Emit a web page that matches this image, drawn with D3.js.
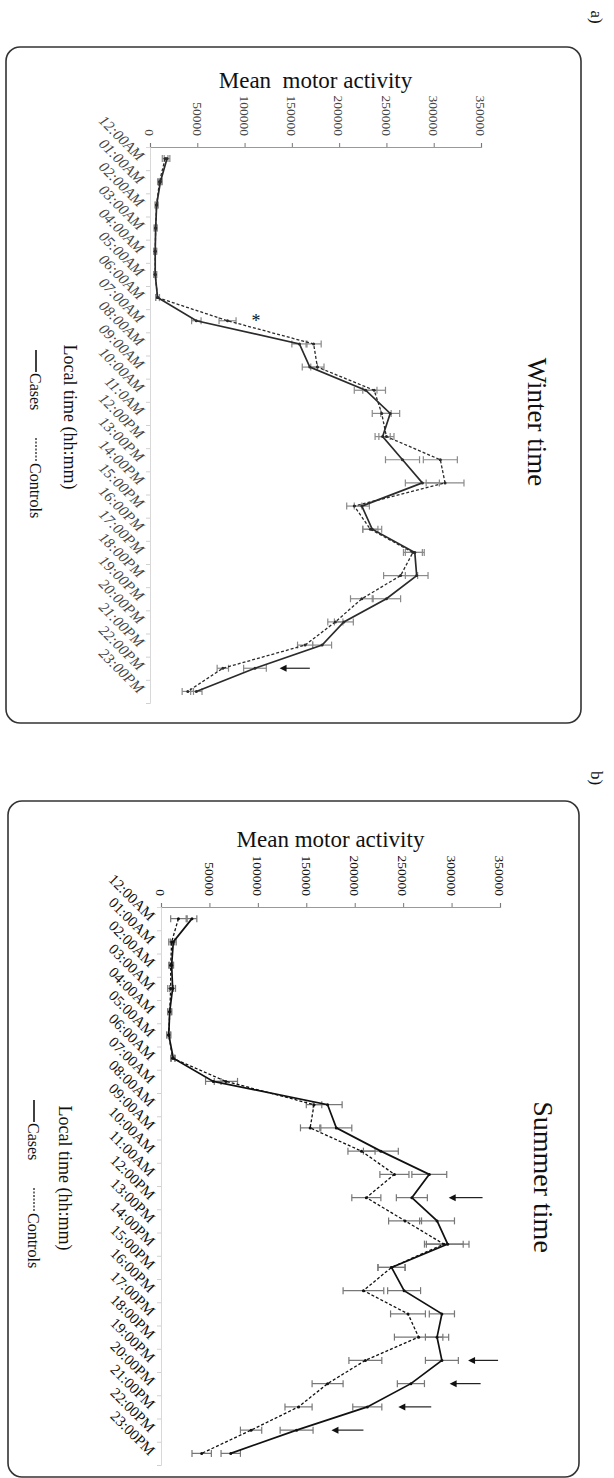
<!DOCTYPE html>
<html><head><meta charset="utf-8">
<script src="https://cdn.jsdelivr.net/npm/d3@7"></script>
<style>body{margin:0;background:#fff}svg{display:block}</style>
</head><body><svg id="c" width="614" height="1478"></svg>
<script>
// ---------- DATA ----------
const hoursA = ["12:00AM","01:00AM","02:00AM","03:00AM","04:00AM","05:00AM","06:00AM","07:00AM","08:00AM","09:00AM","10:00AM","11:0AM","12:00PM","13:00PM","14:00PM","15:00PM","16:00PM","17:00PM","18:00PM","19:00PM","20:00PM","21:00PM","22:00PM","23:00PM"];
const hoursB = ["12:00AM","01:00AM","02:00AM","03:00AM","04:00AM","05:00AM","06:00AM","07:00AM","08:00AM","09:00AM","10:00AM","11:00AM","12:00PM","13:00PM","14:00PM","15:00PM","16:00PM","17:00PM","18:00PM","19:00PM","20:00PM","21:00PM","22:00PM","23:00PM"];
const valueTicks = [0,50000,100000,150000,200000,250000,300000,350000];

const winterCases    = [18000,11000,7000,6000,5500,5500,8000,49000,158000,169000,228000,254000,246000,267000,288000,224000,235000,280000,282000,250000,205000,182000,111000,49000];
const winterCasesErr = [3000,2000,1500,1500,1500,1500,2000,5000,8000,8000,12000,10000,8000,18000,18000,8000,10000,10000,12000,15000,10000,10000,12000,6000];
const winterControls    = [16000,10000,7000,6000,5500,5500,8000,82000,173000,177000,237000,245000,250000,307000,312000,216000,233000,278000,265000,224000,196000,164000,77000,40000];
const winterControlsErr = [3000,2000,1500,1500,1500,1500,2000,9000,8000,7000,12000,10000,8000,18000,20000,8000,8000,10000,18000,12000,8000,8000,6000,6000];
const winterArrows = [[22,137000,169000]];
const winterStars  = [[7,112000]];

const summerCases    = [32000,12700,11000,12000,9000,8000,12700,54000,172000,181000,227000,277000,259000,285000,296000,238000,251000,290000,285000,290000,258000,213000,140000,72000];
const summerCasesErr = [5000,3000,2000,3000,2000,2000,2000,8000,15000,16000,18000,18000,16000,18000,22000,14000,17000,13000,12000,17000,14000,15000,17000,10000];
const summerControls    = [18000,11000,10000,10000,9000,8000,12000,67000,158000,154000,207000,241000,212000,252000,292000,238000,209000,255000,266000,211000,172000,142000,93000,42000];
const summerControlsErr = [8000,3000,2000,3000,2000,2000,2000,12000,8000,10000,14000,15000,15000,17000,20000,14000,21000,18000,25000,17000,16000,14000,11000,10000];
const summerArrows = [[12,297000,332000],[19,317000,348000],[20,298000,330000],[21,245000,279000],[22,176000,209000]];
const summerStars  = [];

// ---------- LAYOUT ----------
const panels = [
  {tag:"a)", title:"Winter time", yTitle:"Mean  motor activity", hours:hoursA,
   cases:winterCases, casesErr:winterCasesErr, controls:winterControls, controlsErr:winterControlsErr,
   arrows:winterArrows, stars:winterStars,
   box:[6,47,581,723], tagPos:[597,17], x0:150, x1:481, axisY:147, catEnd:703,
   yTitleY:88, titleX:537, titleY:422, titleSize:27, xTitleX:70, xTitleY:417,
   legX:36, legY:350, ink:"#2b2b2b", err:"#8a8a8a", labelItalic:true, labelColor:"#444"},
  {tag:"b)", title:"Summer time", yTitle:"Mean motor activity", hours:hoursB,
   cases:summerCases, casesErr:summerCasesErr, controls:summerControls, controlsErr:summerControlsErr,
   arrows:summerArrows, stars:summerStars,
   box:[8,801,579,1477], tagPos:[597,778], x0:161, x1:500, axisY:907, catEnd:1465,
   yTitleY:847, titleX:544, titleY:1177, titleSize:28, xTitleX:65, xTitleY:1178,
   legX:34, legY:1100, ink:"#111", err:"#777", labelItalic:false, labelColor:"#111"}
];

const svg = d3.select("#c");
const FONT = "'Liberation Serif','Times New Roman',serif";

function rtext(g, x, y, str, size, opts={}){
  return g.append("text")
    .attr("transform", `translate(${x},${y}) rotate(${opts.angle ?? 90})`)
    .attr("text-anchor", opts.anchor || "middle")
    .attr("dy", opts.dy ?? "0.35em")
    .attr("font-family", FONT).attr("font-size", size)
    .attr("font-style", opts.italic ? "italic" : "normal")
    .attr("fill", opts.fill || "#111")
    .text(str);
}

panels.forEach(p => {
  const g = svg.append("g");
  const [bx0,by0,bx1,by1] = p.box;
  g.append("rect").attr("x",bx0).attr("y",by0).attr("width",bx1-bx0).attr("height",by1-by0)
    .attr("rx",14).attr("ry",14).attr("fill","none").attr("stroke","#333").attr("stroke-width",1.6);
  rtext(g, p.tagPos[0], p.tagPos[1], p.tag, 17, {});

  const x = d3.scaleLinear().domain([0,350000]).range([p.x0,p.x1]);
  const y = d3.scaleBand().domain(d3.range(24)).range([p.axisY,p.catEnd]).padding(0);
  const cy = i => y(i) + y.bandwidth()/2;

  // value axis (top)
  const ax = g.append("g").attr("transform",`translate(0,${p.axisY})`)
    .call(d3.axisTop(x).tickValues(valueTicks).tickSize(4).tickFormat(""));
  ax.select(".domain").attr("stroke","#999").attr("stroke-width",1.2);
  ax.selectAll(".tick line").attr("stroke","#777");
  valueTicks.forEach(v => rtext(g, x(v), p.axisY-11, String(v), 13.5, {anchor:"end", fill:p.labelColor}));
  g.append("text").attr("x",(p.x0+p.x1)/2).attr("y",p.yTitleY).attr("text-anchor","middle")
    .attr("font-family",FONT).attr("font-size",23).attr("fill","#111").attr("xml:space","preserve")
    .style("white-space","pre").text(p.yTitle);

  // category axis (left)
  const cax = g.append("g").attr("transform",`translate(${p.x0},0)`)
    .call(d3.axisLeft(d3.scaleLinear().domain([0,24]).range([p.axisY,p.catEnd])).tickValues(d3.range(1,25)).tickSize(4).tickFormat(""));
  cax.select(".domain").attr("stroke","#d8d8d8").attr("stroke-width",1);
  cax.selectAll(".tick line").attr("stroke","#d0d0d0");
  p.hours.forEach((h,i) => rtext(g, p.x0-12, cy(i)+3, h, 15, {angle:45, anchor:"end", dy:"0", italic:p.labelItalic, fill:p.labelColor}));

  // error bars
  const drawErr = (vals, errs) => vals.forEach((v,i) => {
    const yy = cy(i), a = x(v-errs[i]), b = x(v+errs[i]);
    g.append("line").attr("x1",a).attr("x2",b).attr("y1",yy).attr("y2",yy).attr("stroke",p.err).attr("stroke-width",1.2);
    [a,b].forEach(xx => g.append("line").attr("x1",xx).attr("x2",xx).attr("y1",yy-3.5).attr("y2",yy+3.5).attr("stroke",p.err).attr("stroke-width",1.2));
  });
  drawErr(p.cases, p.casesErr);
  drawErr(p.controls, p.controlsErr);

  const line = d3.line().x(d => x(d[0])).y(d => cy(d[1]));
  g.append("path").datum(p.controls.map((v,i)=>[v,i])).attr("d",line).attr("fill","none")
    .attr("stroke",p.ink).attr("stroke-width",1.3).attr("stroke-dasharray","3,2");
  g.append("path").datum(p.cases.map((v,i)=>[v,i])).attr("d",line).attr("fill","none")
    .attr("stroke",p.ink).attr("stroke-width",1.7);
  [p.cases,p.controls].forEach(s => s.forEach((v,i) =>
    g.append("circle").attr("cx",x(v)).attr("cy",cy(i)).attr("r",1.5).attr("fill",p.ink)));

  // arrows
  p.arrows.forEach(([i,head,tail]) => {
    const yy = cy(i);
    g.append("line").attr("x1",x(tail)).attr("x2",x(head)+5).attr("y1",yy).attr("y2",yy).attr("stroke","#222").attr("stroke-width",1.2);
    g.append("path").attr("d",`M${x(head)},${yy} l7,-3.5 l0,7 z`).attr("fill","#111");
  });
  p.stars.forEach(([i,v]) => g.append("text").attr("x",x(v)).attr("y",cy(i)+2).attr("text-anchor","middle")
    .attr("dominant-baseline","middle").attr("font-family",FONT).attr("font-size",18).attr("fill","#111").text("*"));

  // titles
  rtext(g, p.titleX, p.titleY, p.title, p.titleSize, {});
  rtext(g, p.xTitleX, p.xTitleY, "Local time (hh:mm)", 18, {});

  // legend (rotated, reading downward)
  const lg = g.append("g").attr("transform",`translate(${p.legX},${p.legY}) rotate(90)`);
  lg.append("line").attr("x1",0).attr("x2",22).attr("y1",0).attr("y2",0).attr("stroke","#111").attr("stroke-width",1.6);
  lg.append("text").attr("x",23).attr("y",0).attr("dy","0.35em").attr("font-family",FONT).attr("font-size",16).attr("fill","#111").text("Cases");
  lg.append("line").attr("x1",88).attr("x2",112).attr("y1",0).attr("y2",0).attr("stroke","#111").attr("stroke-width",1.2).attr("stroke-dasharray","2,1.5");
  lg.append("text").attr("x",113).attr("y",0).attr("dy","0.35em").attr("font-family",FONT).attr("font-size",16).attr("fill","#111").text("Controls");
});
</script>
</body></html>
